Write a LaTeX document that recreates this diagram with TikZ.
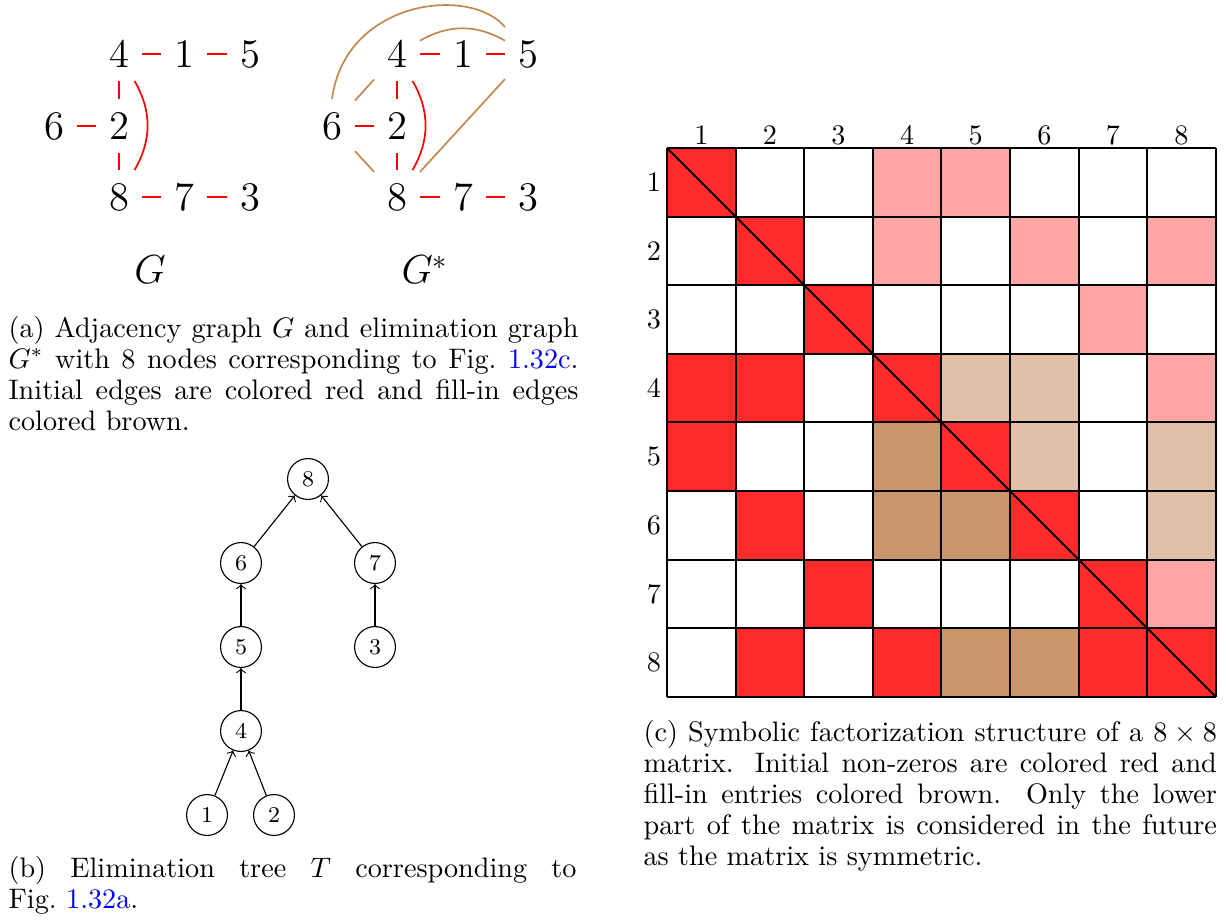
\documentclass[tikz,border=0pt]{standalone}
\usepackage{tikz}
\definecolor{cred}{RGB}{255,42,42}
\definecolor{cpink}{RGB}{255,166,166}
\definecolor{cbr}{RGB}{201,150,108}
\definecolor{clb}{RGB}{224,193,167}
\definecolor{ebrown}{RGB}{196,136,76}
\begin{document}
\begin{tikzpicture}[x=0.3546pt,y=-0.3546pt,
  gnode/.style={minimum width=16.3pt,minimum height=19.1pt,inner sep=0pt,outer sep=0pt,font=\Large},
  redge/.style={red,line width=0.6pt},
  bedge/.style={ebrown,line width=0.6pt},
  tnode/.style={circle,draw,minimum size=14.5pt,inner sep=0pt,font=\footnotesize,line width=0.4pt},
  tedge/.style={->,line width=0.4pt},
  captext/.style={anchor=base west,inner sep=0pt,align=left},
  lbl/.style={inner sep=0pt}]
\useasboundingbox (0,0) rectangle (1226,923);
% ---- Graph G
\node[gnode] (a4) at (119,54) {4};
\node[gnode] (a1) at (184,54) {1};
\node[gnode] (a5) at (250,54) {5};
\node[gnode] (a6) at (54,126) {6};
\node[gnode] (a2) at (119,126) {2};
\node[gnode] (a8) at (119,197) {8};
\node[gnode] (a7) at (184,197) {7};
\node[gnode] (a3) at (250,197) {3};
\draw[redge] (a4) -- (a1);
\draw[redge] (a1) -- (a5);
\draw[redge] (a6) -- (a2);
\draw[redge] (a4) -- (a2);
\draw[redge] (a2) -- (a8);
\draw[redge] (a8) -- (a7);
\draw[redge] (a7) -- (a3);
\draw[redge] (a4) to[bend left=30] (a8);
\node[lbl,font=\Large] (gG) at (150,270) {$G$};
% ---- Graph G*
\node[gnode] (b4) at (397,54) {4};
\node[gnode] (b1) at (463,54) {1};
\node[gnode] (b5) at (528,54) {5};
\node[gnode] (b6) at (332,126) {6};
\node[gnode] (b2) at (397,126) {2};
\node[gnode] (b8) at (397,197) {8};
\node[gnode] (b7) at (463,197) {7};
\node[gnode] (b3) at (528,197) {3};
\draw[redge] (b4) -- (b1);
\draw[redge] (b1) -- (b5);
\draw[redge] (b6) -- (b2);
\draw[redge] (b4) -- (b2);
\draw[redge] (b2) -- (b8);
\draw[redge] (b8) -- (b7);
\draw[redge] (b7) -- (b3);
\draw[redge] (b4) to[bend left=30] (b8);
\draw[bedge] (b6) -- (b4);
\draw[bedge] (b6) -- (b8);
\draw[bedge] (b8) -- (b5);
\draw[bedge] (b4) to[bend left=30] (b5);
\draw[bedge] (b6.north) .. controls +(13,-99) and +(-35,-42) .. (b5.north west);
\node[lbl,font=\Large] (gGs) at (425,270) {$G^*$};
% ---- caption a
\node[captext] (capA) at (8,337) {\parbox[t]{202.1pt}{\fontsize{10}{11}\selectfont (a) Adjacency graph $G$ and elimination graph\linebreak $G^*$ with 8 nodes corresponding to Fig.~\textcolor{blue}{1.32c}.\linebreak Initial edges are colored red and fill-in edges\linebreak colored brown.}};
% ---- Tree
\node[tnode] (t8) at (308,479) {8};
\node[tnode] (t6) at (241,563) {6};
\node[tnode] (t7) at (375,563) {7};
\node[tnode] (t5) at (241,647) {5};
\node[tnode] (t3) at (375,647) {3};
\node[tnode] (t4) at (241,731) {4};
\node[tnode] (t1) at (207,815) {1};
\node[tnode] (t2) at (274,815) {2};
\draw[tedge] (t6) -- (t8);
\draw[tedge] (t7) -- (t8);
\draw[tedge] (t5) -- (t6);
\draw[tedge] (t3) -- (t7);
\draw[tedge] (t4) -- (t5);
\draw[tedge] (t1) -- (t4);
\draw[tedge] (t2) -- (t4);
\node[captext] (capB) at (8,877) {\parbox[t]{201.4pt}{\fontsize{10}{11}\selectfont (b) Elimination tree $T$ corresponding to\linebreak Fig.~\textcolor{blue}{1.32a}.}};
% ---- Matrix
\foreach \r/\c/\col in {1/1/cred,1/4/cpink,1/5/cpink,2/2/cred,2/4/cpink,2/6/cpink,2/8/cpink,3/3/cred,3/7/cpink,4/1/cred,4/2/cred,4/4/cred,4/5/clb,4/6/clb,4/8/cpink,5/1/cred,5/4/cbr,5/5/cred,5/6/clb,5/8/clb,6/2/cred,6/4/cbr,6/5/cbr,6/6/cred,6/8/clb,7/3/cred,7/7/cred,7/8/cpink,8/2/cred,8/4/cred,8/5/cbr,8/6/cbr,8/7/cred,8/8/cred}
  \fill[\col] ({667+(\c-1)*68.6},{148+(\r-1)*68.6}) rectangle ++(68.6,68.6);
\foreach \i in {0,...,8} {
  \draw[line width=0.7pt] ({667+\i*68.6},148) -- ({667+\i*68.6},{148+8*68.6});
  \draw[line width=0.7pt] (667,{148+\i*68.6}) -- ({667+8*68.6},{148+\i*68.6});
}
\draw[line width=0.7pt] (667,148) -- ({667+8*68.6},{148+8*68.6});
\foreach \i in {1,...,8} {
  \node[lbl] (col\i) at ({667+(\i-0.5)*68.6},135) {\i};
  \node[lbl] (row\i) at (654,{148+(\i-0.5)*68.6}) {\i};
}
\node[captext] (capC) at (643,741) {\parbox[t]{203.3pt}{\fontsize{10}{11}\selectfont (c) Symbolic factorization structure of a $8\times8$\linebreak matrix. Initial non-zeros are colored red and\linebreak fill-in entries colored brown. Only the lower\linebreak part of the matrix is considered in the future\linebreak as the matrix is symmetric.}};
\end{tikzpicture}
\end{document}
